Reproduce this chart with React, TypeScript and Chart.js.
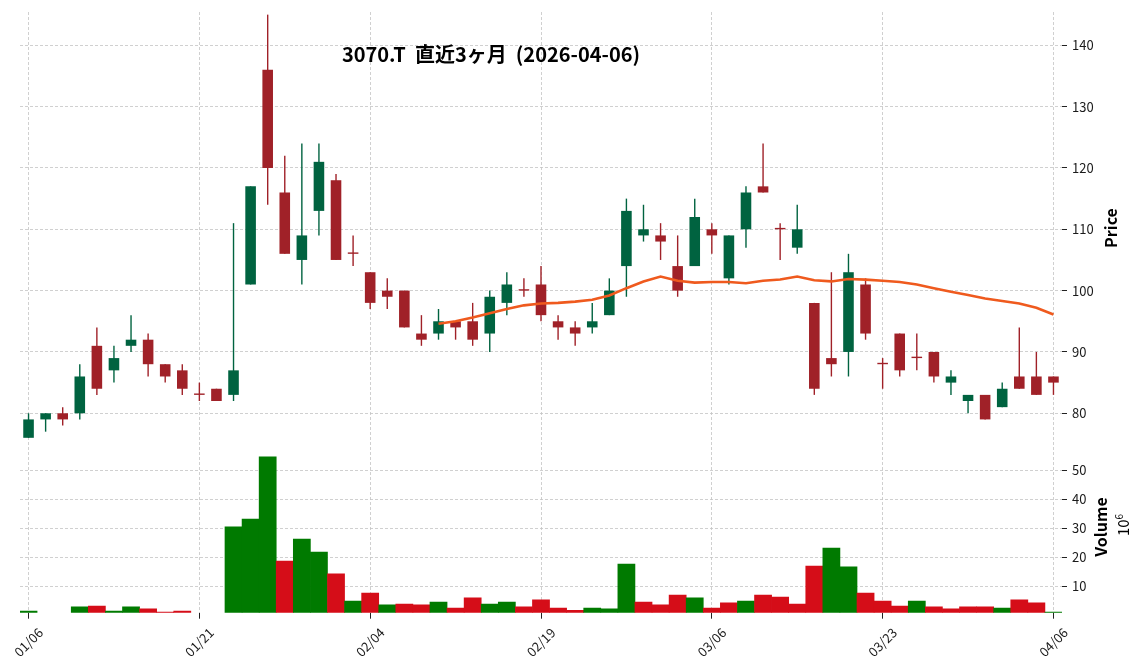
import React, { useEffect, useRef } from 'react';
import { Chart, registerables } from 'chart.js';

Chart.register(...registerables);

const dates = [
  '01/06', '01/07', '01/08', '01/09', '01/13', '01/14', '01/15', '01/16', '01/19', '01/20',
  '01/21', '01/22', '01/23', '01/26', '01/27', '01/28', '01/29', '01/30', '02/02', '02/03',
  '02/04', '02/05', '02/06', '02/09', '02/10', '02/12', '02/13', '02/16', '02/17', '02/18',
  '02/19', '02/20', '02/24', '02/25', '02/26', '02/27', '03/02', '03/03', '03/04', '03/05',
  '03/06', '03/09', '03/10', '03/11', '03/12', '03/13', '03/16', '03/17', '03/18', '03/19',
  '03/23', '03/24', '03/25', '03/26', '03/27', '03/30', '03/31', '04/01', '04/02', '04/03',
  '04/06',
];

const opens = [
  76, 79, 80, 80, 91, 87, 91, 92, 88, 87,
  83, 84, 83, 101, 136, 116, 105, 113, 118, 106,
  103, 100, 100, 93, 93, 95, 95, 93, 98, 100,
  101, 95, 94, 94, 96, 104, 109, 109, 104, 104,
  110, 102, 110, 117, 110, 107, 98, 89, 90, 101,
  88, 93, 89, 90, 85, 82, 83, 81, 86, 86,
  86,
];

const highs = [
  80, 80, 81, 88, 94, 91, 96, 93, 88, 88,
  85, 84, 111, 117, 145, 122, 124, 124, 119, 109,
  103, 102, 100, 96, 97, 95, 98, 100, 103, 102,
  104, 96, 95, 98, 102, 115, 114, 111, 109, 115,
  111, 109, 117, 124, 111, 114, 98, 103, 106, 102,
  89, 93, 93, 90, 87, 83, 83, 85, 94, 90,
  86,
];

const lows = [
  76, 77, 78, 79, 83, 85, 90, 86, 85, 83,
  82, 82, 82, 101, 114, 106, 101, 109, 105, 104,
  97, 97, 94, 91, 92, 92, 91, 90, 96, 99,
  95, 92, 91, 93, 96, 99, 108, 105, 99, 104,
  106, 101, 107, 116, 105, 106, 83, 86, 86, 92,
  84, 86, 87, 85, 83, 80, 79, 81, 84, 83,
  83,
];

const closes = [
  79, 80, 79, 86, 84, 89, 92, 88, 86, 84,
  83, 82, 87, 117, 120, 106, 109, 121, 105, 106,
  98, 99, 94, 92, 95, 94, 92, 99, 101, 100,
  96, 94, 93, 95, 100, 113, 110, 108, 100, 112,
  109, 109, 116, 116, 110, 110, 84, 88, 103, 93,
  88, 87, 89, 86, 86, 83, 79, 84, 84, 83,
  85,
];

// volume in millions of shares
const volumes = [
  1.5, 0, 0, 2.9, 3.2, 1.5, 2.9, 2.2, 1.15, 1.5,
  0, 0, 30.5, 33.2, 54.6, 18.7, 26.3, 21.8, 14.3, 4.9,
  7.7, 3.6, 3.9, 3.6, 4.6, 2.5, 6.0, 3.9, 4.6, 2.9,
  5.3, 2.5, 1.7, 2.5, 2.2, 17.7, 4.6, 3.6, 7.0, 6.0,
  2.5, 4.3, 4.9, 7.0, 6.3, 3.9, 17.0, 23.2, 16.7, 7.7,
  4.9, 3.2, 4.9, 2.9, 2.2, 2.9, 2.9, 2.5, 5.3, 4.3,
  1.15,
];

// 25-day moving average of close
const ma25 = [
  null, null, null, null, null, null, null, null, null, null,
  null, null, null, null, null, null, null, null, null, null,
  null, null, null, null, 94.6, 95.0, 95.6, 96.3, 97.0, 97.6,
  97.9, 98.0, 98.2, 98.5, 99.2, 100.4, 101.5, 102.3, 101.6, 101.3,
  101.4, 101.4, 101.2, 101.6, 101.8, 102.3, 101.7, 101.5, 101.9, 101.8,
  101.6, 101.4, 101.0, 100.4, 99.8, 99.3, 98.7, 98.3, 97.9, 97.2,
  96.1,
];

const priceTicks = [80, 90, 100, 110, 120, 130, 140];
const volumeTicks = [10, 20, 30, 40, 50];

const TITLE = '3070.T  直近3ヶ月  (2026-04-06)';

const UP = '#006340';
const DOWN = '#a02128';
const VUP = '#007a00';
const VDOWN = '#d50d18';
const MA_COLOR = '#ef5a1e';
const GRID = '#c4c4c4';
const TEXT = '#1a1a1a';
const FONT = '"Noto Sans CJK JP", "Noto Sans", sans-serif';

export default function App() {
  const ref = useRef<HTMLCanvasElement>(null);

  useEffect(() => {
    const candleColor = opens.map((o, i) => (closes[i] > o ? UP : DOWN));
    const volColor = closes.map((c, i) => (i === 0 || c > closes[i - 1] ? VUP : VDOWN));
    const tickFont = { family: FONT, size: 13 };

    const chart = new Chart(ref.current as HTMLCanvasElement, {
      type: 'bar',
      data: {
        labels: dates,
        datasets: [
          {
            type: 'line',
            label: 'MA25',
            data: ma25,
            yAxisID: 'y',
            borderColor: MA_COLOR,
            borderWidth: 2.6,
            pointRadius: 0,
            tension: 0,
            order: 0,
            clip: 0,
          } as any,
          {
            label: 'body',
            data: opens.map((o, i) => [Math.min(o, closes[i]), Math.max(o, closes[i])]),
            yAxisID: 'y',
            backgroundColor: candleColor,
            grouped: false,
            categoryPercentage: 1,
            barPercentage: 0.62,
            minBarLength: 1.4,
            inflateAmount: 0,
            order: 1,
            clip: 0,
          } as any,
          {
            label: 'wick',
            data: lows.map((l, i) => [l, highs[i]]),
            yAxisID: 'y',
            backgroundColor: candleColor,
            grouped: false,
            barThickness: 1.4,
            inflateAmount: 0,
            order: 2,
            clip: 0,
          } as any,
          {
            label: 'Volume',
            data: volumes,
            yAxisID: 'yv',
            backgroundColor: volColor,
            grouped: false,
            categoryPercentage: 1,
            barPercentage: 1,
            order: 3,
            clip: 0,
          } as any,
        ],
      },
      options: {
        animation: false,
        responsive: false,
        maintainAspectRatio: false,
        layout: { padding: { left: 20, top: 12, right: 0, bottom: 0 } },
        plugins: {
          legend: { display: false },
          tooltip: { enabled: false },
          title: { display: false },
        },
        scales: {
          x: {
            type: 'category',
            offset: true,
            grid: {
              color: GRID,
              lineWidth: 0.8,
              offset: false,
              tickLength: 6,
              tickColor: '#222',
              tickWidth: 1,
            },
            border: { display: false, dash: [3, 2] },
            ticks: {
              autoSkip: false,
              minRotation: 45,
              maxRotation: 45,
              labelOffset: 12,
              padding: 6,
              color: TEXT,
              font: tickFont,
            },
            afterBuildTicks: (s: any) => {
              s.ticks = s.ticks.filter((t: any) => t.value % 10 === 0);
            },
            afterFit: (s: any) => {
              s.height = 57.3;
              s.paddingLeft = 0;
              s.paddingRight = 0;
            },
          },
          y: {
            type: 'linear',
            position: 'right',
            stack: 'panels',
            stackWeight: 429,
            min: 75.48,
            max: 145.43,
            ticks: { padding: 5, color: TEXT, font: tickFont },
            grid: { color: GRID, lineWidth: 0.8, tickLength: 5, tickColor: '#222', tickWidth: 1 },
            border: { display: false, dash: [3, 2] },
            afterBuildTicks: (s: any) => {
              s.ticks = priceTicks.map((v) => ({ value: v }));
            },
            afterFit: (s: any) => {
              s.width = 82;
              s.paddingTop = 0;
              s.paddingBottom = 0;
            },
          },
          yv: {
            type: 'linear',
            position: 'right',
            stack: 'panels',
            stackWeight: 171.7,
            min: 0.9,
            max: 60.1,
            ticks: { padding: 5, color: TEXT, font: tickFont },
            grid: { color: GRID, lineWidth: 0.8, tickLength: 5, tickColor: '#222', tickWidth: 1 },
            border: { display: false, dash: [3, 2] },
            afterBuildTicks: (s: any) => {
              s.ticks = volumeTicks.map((v) => ({ value: v }));
            },
            afterFit: (s: any) => {
              s.width = 82;
              s.paddingTop = 0;
              s.paddingBottom = 0;
            },
          },
        } as any,
      },
    });
    return () => chart.destroy();
  }, []);

  const rotated = (cx: number, cy: number): React.CSSProperties => ({
    position: 'absolute',
    left: cx,
    top: cy,
    transform: 'translate(-50%, -50%) rotate(-90deg)',
    whiteSpace: 'nowrap',
    fontFamily: FONT,
    color: '#000',
    lineHeight: 1,
  });

  return (
    <div style={{ position: 'fixed', left: 0, top: 0, width: 1144, height: 670, background: '#fff', overflow: 'hidden' }}>
      <canvas ref={ref} width={1144} height={670} style={{ position: 'absolute', left: 0, top: 0, width: 1144, height: 670 }} />
      <div
        style={{
          position: 'absolute',
          left: 0,
          width: 982,
          top: 44,
          textAlign: 'center',
          whiteSpace: 'pre',
          fontFamily: FONT,
          fontWeight: 'bold',
          fontSize: 20,
          lineHeight: '20px',
          color: '#000',
        }}
      >
        {TITLE}
      </div>
      <div style={{ ...rotated(1110, 228), fontWeight: 'bold', fontSize: 16 }}>Price</div>
      <div style={{ ...rotated(1100, 527), fontWeight: 'bold', fontSize: 16 }}>Volume</div>
      <div style={{ ...rotated(1122, 525), fontSize: 15 }}>
        10<sup style={{ fontSize: 10 }}>6</sup>
      </div>
    </div>
  );
}
